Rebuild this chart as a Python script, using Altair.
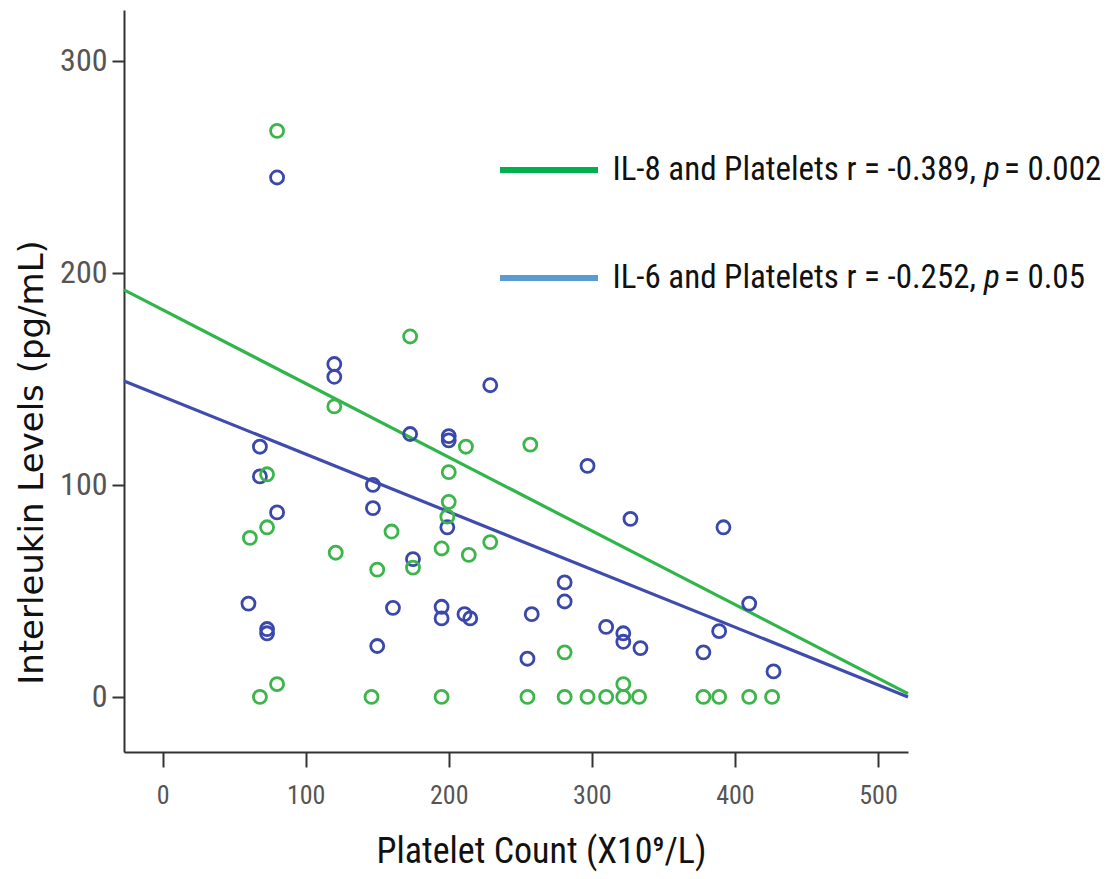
import altair as alt
import pandas as pd

# IL-8 (pg/mL) against platelet count (x10^9/L)
il8_platelets = [80, 173, 120, 212, 257, 73, 200, 200, 199, 73, 61, 160, 121, 229, 214,
                 195, 175, 150, 281, 80, 322,
                 68, 146, 195, 255, 281, 297, 310, 322, 333, 378, 389, 410, 426]
il8_levels = [267, 170, 137, 118, 119, 105, 106, 92, 85, 80, 75, 78, 68, 73, 67,
              70, 61, 60, 21, 6, 6,
              0, 0, 0, 0, 0, 0, 0, 0, 0, 0, 0, 0, 0]

# IL-6 (pg/mL) against platelet count (x10^9/L)
il6_platelets = [80, 120, 120, 229, 173, 200, 200, 297, 68, 68, 147, 147, 80, 199, 327,
                 392, 175, 281, 281, 410, 60, 161, 195, 195, 211, 215, 258, 73, 73,
                 310, 322, 322, 334, 389, 378, 150, 255, 427]
il6_levels = [245, 157, 151, 147, 124, 123, 121, 109, 118, 104, 100, 89, 87, 80, 84,
              80, 65, 54, 45, 44, 44, 42, 42.5, 37, 39, 37, 39, 32, 30,
              33, 30, 26, 23, 31, 21, 24, 18, 12]

# Linear fit lines: intercept and slope for each cytokine
fit_names = ["IL-8", "IL-6"]
fit_intercepts = [182.6, 141.7]
fit_slopes = [-0.3476, -0.272]

x_range = [-27, 521]
y_range = [-26, 324]

GREEN_PT = "#3db54a"
BLUE_PT = "#3a48aa"
GREEN_LINE = "#2fb548"
BLUE_LINE = "#3f4cae"
LEG_GREEN = "#00b050"
LEG_BLUE = "#5b9bd5"

NARROW = "'Roboto Condensed', 'DejaVu Sans Condensed', 'Liberation Sans Narrow', Roboto, sans-serif"

il8_df = pd.DataFrame({"platelets": il8_platelets, "level": il8_levels})
il6_df = pd.DataFrame({"platelets": il6_platelets, "level": il6_levels})

fit_rows = []
for name, a, b in zip(fit_names, fit_intercepts, fit_slopes):
    for xv in x_range:
        fit_rows.append({"series": name, "platelets": xv, "level": a + b * xv})
fit_df = pd.DataFrame(fit_rows)

x_enc = alt.X(
    "platelets:Q",
    scale=alt.Scale(domain=x_range, nice=False, zero=False),
    axis=alt.Axis(
        values=[0, 100, 200, 300, 400, 500],
        title="Platelet Count (X10⁹/L)",
        titleFont=NARROW, titleFontSize=36, titleFontWeight="normal",
        titleColor="#111111", titlePadding=26, titleX=417,
        labelFont=NARROW, labelFontSize=26, labelColor="#555555", labelPadding=15,
        tickSize=15, tickWidth=2, tickColor="#333333",
        domainColor="#333333", domainWidth=2, grid=False,
    ),
)
y_enc = alt.Y(
    "level:Q",
    scale=alt.Scale(domain=y_range, nice=False, zero=False),
    axis=alt.Axis(
        values=[0, 100, 200, 300],
        title="Interleukin Levels (pg/mL)",
        titleFont="DejaVu Sans", titleFontSize=34, titleFontWeight="normal",
        titleColor="#111111", titlePadding=10, titleY=452,
        labelFont=NARROW, labelFontSize=32, labelColor="#555555", labelPadding=5,
        tickSize=12, tickWidth=2, tickColor="#333333",
        domainColor="#333333", domainWidth=2, grid=False,
    ),
)

point_style = dict(shape="circle", filled=False, size=170, strokeWidth=2.8, opacity=1)
il8_pts = alt.Chart(il8_df).mark_point(color=GREEN_PT, **point_style).encode(x=x_enc, y=y_enc)
il6_pts = alt.Chart(il6_df).mark_point(color=BLUE_PT, **point_style).encode(x=x_enc, y=y_enc)

il8_fit = alt.Chart(fit_df[fit_df.series == "IL-8"]).mark_line(
    color=GREEN_LINE, strokeWidth=3.2
).encode(x=x_enc, y=y_enc)
il6_fit = alt.Chart(fit_df[fit_df.series == "IL-6"]).mark_line(
    color=BLUE_LINE, strokeWidth=3.2
).encode(x=x_enc, y=y_enc)

# Annotation key: swatch lines and the r / p statements
key_rows = pd.DataFrame({
    "pre": ["IL-8 and Platelets r = -0.389,", "IL-6 and Platelets  r = -0.252,"],
    "post": ["= 0.002", "= 0.05"],
    "ypos": [160, 268],
    "color": [LEG_GREEN, LEG_BLUE],
})

key_lines = alt.Chart(key_rows).mark_rule(strokeWidth=6).encode(
    x=alt.value(376), x2=alt.value(474), y=alt.Y("ypos:Q", scale=None),
    color=alt.Color("color:N", scale=None),
)
text_style = dict(font=NARROW, fontSize=33, color="#111111", baseline="middle")
key_pre = alt.Chart(key_rows).mark_text(align="right", **text_style).encode(
    x=alt.value(852), y=alt.Y("ypos:Q", scale=None), text="pre:N"
)
key_p = alt.Chart(key_rows).mark_text(align="left", fontStyle="italic", **text_style).encode(
    x=alt.value(860), y=alt.Y("ypos:Q", scale=None), text=alt.value("p")
)
key_post = alt.Chart(key_rows).mark_text(align="left", **text_style).encode(
    x=alt.value(880), y=alt.Y("ypos:Q", scale=None), text="post:N"
)

chart = alt.layer(
    il8_fit, il6_fit, il6_pts, il8_pts, key_lines, key_pre, key_p, key_post
).properties(
    width=784, height=742,
    autosize=alt.AutoSizeParams(type="none"),
    padding={"left": 124, "top": 10, "right": 204, "bottom": 127},
    background="white",
).configure_view(stroke=None)

chart.save("out.html", embed_options={"renderer": "svg", "actions": False})
